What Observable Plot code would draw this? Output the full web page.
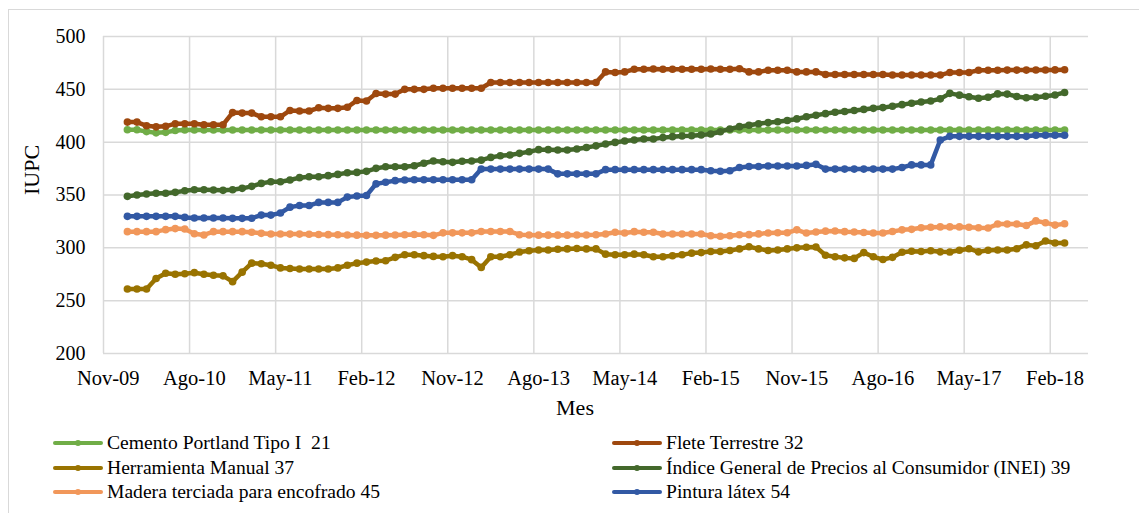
<!DOCTYPE html>
<html><head><meta charset="utf-8">
<script src="https://cdn.jsdelivr.net/npm/d3@7"></script>
<script src="https://cdn.jsdelivr.net/npm/@observablehq/plot@0.6"></script>
<style>
body{margin:0;background:#fff;}
#wrap{position:relative;width:1139px;height:513px;overflow:hidden;font-family:"Liberation Serif","Times New Roman",serif;}
#border{position:absolute;left:8px;top:9px;width:1150px;height:520px;border:1.5px solid #d9d9d9;box-sizing:border-box;}
#chart{position:absolute;left:0;top:0;}
.li{position:absolute;height:24px;display:flex;align-items:center;font-size:19.6px;color:#000;white-space:pre;}
.li svg{margin-right:4px;}
</style></head><body>
<div id="wrap"><div id="border"></div><div id="chart"></div><div id="legend"></div></div>
<script>
// X axis tick labels (every 9 months, starting Nov-09)
const tickLabels = ["Nov-09","Ago-10","May-11","Feb-12","Nov-12","Ago-13","May-14","Feb-15","Nov-15","Ago-16","May-17","Feb-18"];
const yTicks = [200,250,300,350,400,450,500];

// Series values, monthly Jan-2010 .. Mar-2018 (99 points)
const cemento = [411.8,411.8,410,408.8,409.3,411,411.5,411.5,411.5,411.5,
411.5,411.5,411.5,411.5,411.5,411.5,411.5,411.5,411.5,411.5,
411.5,411.5,411.5,411.5,411.5,411.5,411.5,411.5,411.5,411.5,
411.5,411.5,411.5,411.5,411.5,411.5,411.5,411.5,411.5,411.5,
411.5,411.5,411.5,411.5,411.5,411.5,411.5,411.5,411.5,411.5,
411.5,411.5,411.5,411.5,411.5,411.5,411.5,411.5,411.5,411.5,
411.5,411.5,411.5,411.5,411.5,411.5,411.5,411.5,411.5,411.5,
411.5,411.5,411.5,411.5,411.5,411.5,411.5,411.5,411.5,411.5,
411.5,411.5,411.5,411.5,411.5,411.5,411.5,411.5,411.5,411.5,
411.5,411.5,411.5,411.5,411.5,411.5,411.5,411.5,411.5];

const flete = [419,419,415.5,414.5,415,417.5,417.5,417.5,416.5,416.5,416.5,
428,427.5,427.5,424,424,424,
430,429.5,429.5,432.5,432,432,
433,439.5,439,
446,445.5,445.5,
450,450,450,
451,451,451,451,451,451,
456.5,456.5,456.5,456.5,456.5,456.5,456.5,456.5,456.5,456.5,456.5,456.5,
466.5,466,466.5,
469,469,469.2,469,469,469,469,469,469.2,469,469,469.5,
466.5,466.5,
468,468,468,
466.5,466.5,466.5,
464,464,464,464,464,464,464,
463.5,463.5,463.5,463.5,463.5,463.5,
466,466,466,
468,468,468,468.2,468.2,468.2,468.3,468.3,468.4,468.5];

const herramienta = [261,261,261,271,276,275,275.5,276.5,275,274,273.5,268,277,285.5,285,283.5,281,280.5,280,280,280,280,281,283.5,285.5,286.5,287.5,
287.8,291,293.5,293.5,292.6,291.9,291.6,292.6,291.6,288.8,281.5,291.6,291.6,
293.5,296,297.3,298,298,298.6,299,299.3,299,299,
294,293.5,293.5,294,293.5,291.5,291.5,292.5,293.5,295,295.5,296.5,296.5,297.5,299,301,299,297.5,298,299,300,300.5,300.8,293,291.5,
290.5,290,295.5,291.5,289,291,295.8,296.7,296.5,297.3,296.2,296,297.7,299.2,296.2,297.7,298,298,299.2,302.8,302,306.5,304.6,304.6];

const igpc = [348.7,350,351,351.6,351.6,352.5,354,355,355,354.8,354.4,355,356.3,358.2,361,362.6,362.6,364.2,366.4,367.3,367.3,368.3,369.5,371.1,
371.4,372.4,375.2,376.8,376.8,376.8,377.7,380,382.2,381.5,380.9,381.9,382.2,383,385.6,387.2,387.8,389.4,391,392.9,392.9,392.6,392.6,393.5,395,396.5,
398.3,399.8,401.1,402,403,403,404.3,405.2,405.8,406.1,406.8,407.7,409.9,412.5,414.7,416,417.5,418.5,419.3,420.5,422,424,425.5,427,428.3,
429,430,431,432,432.7,434,435.5,436.8,438,439,441,446.2,444.5,443,441.5,442.5,445.7,445.5,443.2,442,442.5,443.5,444.7,447];

const madera = [315.3,315.3,315.3,315.3,317.2,318.2,317.8,313.3,312.2,315.3,315.3,315.3,315.3,314.7,
313.7,313.1,313.1,313,313,312.8,312.6,312.5,312.4,312.2,
312,311.8,311.8,312,312.2,312.4,312.6,312.4,
311.8,
314.2,314.2,314.2,314.2,
315.4,315.4,315.4,315.4,
312.4,312.2,312,312,312,312,312.2,312.2,312.4,
313.1,314.7,314,315.3,314.7,314.7,313.1,313.1,313.1,313.1,313.1,311.5,310.9,311.5,312.4,
312.5,313.2,314,314.3,314.3,317,314,315,315.8,316,
315.3,315,314.5,314,314,315.5,317,317.5,319,319.5,319.8,319.8,319.8,319.5,319,318.8,322.5,322.5,322.5,321.2,325.5,323.8,321.5,322.8];

const pintura = [329.8,329.8,329.8,329.8,329.8,329.8,
328.8,328.2,328.2,328.2,328.2,327.9,327.9,328,
331,331,333,
338.5,340,340,
343,343,343,
348,349,349.5,
360.5,362,363.6,364.2,
364.5,364.5,364.5,364.5,364.5,364.5,364.5,
374.5,374.5,374.5,374.5,374.5,374.5,374.5,374.5,
370,370,370,370,370,
374,374,374,374,374,374,374,374,374,374,374,
373,372.5,373,
376,377,377,377.5,377.5,377.5,377.5,378,
379,
374.5,374.5,374.5,374.5,374.5,374.5,374.5,374.5,
376,
378.5,378.5,378.5,
402,
405.5,405.5,405.5,405.5,405.5,405.5,405.5,405.5,405.5,
406.5,406.5,406.5,406.5];

const seriesNames = ["Cemento Portland Tipo I  21","Flete Terrestre 32","Herramienta Manual 37","Índice General de Precios al Consumidor (INEI) 39","Madera terciada para encofrado 45","Pintura látex 54"];
const seriesColors = ["#70AD47","#9E480E","#997300","#43682B","#F1975A","#3259A4"];
const seriesValues = [cemento, flete, herramienta, igpc, madera, pintura];

// month positions: axis starts Nov-2009; points sit mid-month
const axisStart = new Date(Date.UTC(2009,10,1));
const months = d3.utcMonth.range(new Date(Date.UTC(2010,0,1)), new Date(Date.UTC(2018,3,1)));
const gridPos = tickLabels.map((d,i) => i*9);
const labelPos = tickLabels.map((d,i) => i*9 + 0.5);

const rows = seriesValues.map((vals, s) => vals.map((v, i) => ({s, x: d3.utcMonth.count(axisStart, months[i]) + 0.5, y: v})));

const font = '"Liberation Serif","Times New Roman",serif';
const marks = [
  Plot.gridY(yTicks, {stroke:"#d9d9d9", strokeOpacity:1, strokeWidth:1.5}),
  Plot.gridX(gridPos, {stroke:"#d9d9d9", strokeOpacity:1, strokeWidth:1.5}),
  Plot.axisY(yTicks, {tickSize:0, tickPadding:18, fontSize:20, label:null, tickFormat:d=>String(d), fill:"#000"}),
  Plot.axisX(labelPos, {tickSize:0, tickPadding:17, fontSize:20.5, label:null, tickFormat:d=>tickLabels[Math.round((d-0.5)/9)], fill:"#000"})
];
rows.forEach((r, s) => {
  marks.push(Plot.line(r, {x:"x", y:"y", stroke:seriesColors[s], strokeWidth:4.5, strokeLinejoin:"round", strokeLinecap:"round"}));
  marks.push(Plot.dot(r, {x:"x", y:"y", r:3.8, fill:seriesColors[s], stroke:null}));
});
marks.push(Plot.text(["Mes"], {frameAnchor:"bottom", dx:-21, dy:61, fontSize:22, fill:"#000"}));
marks.push(Plot.text(["IUPC"], {frameAnchor:"left", rotate:-90, dx:-72, fontSize:22, fill:"#000"}));

const chart = Plot.plot({
  width:1139, height:425,
  marginLeft:103, marginRight:51, marginTop:36, marginBottom:72,
  x:{domain:[0,103], axis:null},
  y:{domain:[200,500], axis:null},
  style:{fontFamily:font, background:"transparent", color:"#000"},
  marks
});
document.getElementById("chart").appendChild(chart);

// legend
const leg = document.getElementById("legend");
const colX = [53, 612], rowY = [443, 467.5, 492];
seriesNames.forEach((name, i) => {
  const d = document.createElement("div");
  d.className = "li";
  d.style.left = colX[i%2] + "px";
  d.style.top = (rowY[Math.floor(i/2)] - 12) + "px";
  d.innerHTML = `<svg width="50" height="12"><line x1="2" y1="6" x2="48" y2="6" stroke="${seriesColors[i]}" stroke-width="4" stroke-linecap="round"/><circle cx="25" cy="6" r="3" fill="${seriesColors[i]}"/></svg>`;
  const t = document.createElement("span");
  t.textContent = name;
  d.appendChild(t);
  leg.appendChild(d);
});
</script>
</body></html>
